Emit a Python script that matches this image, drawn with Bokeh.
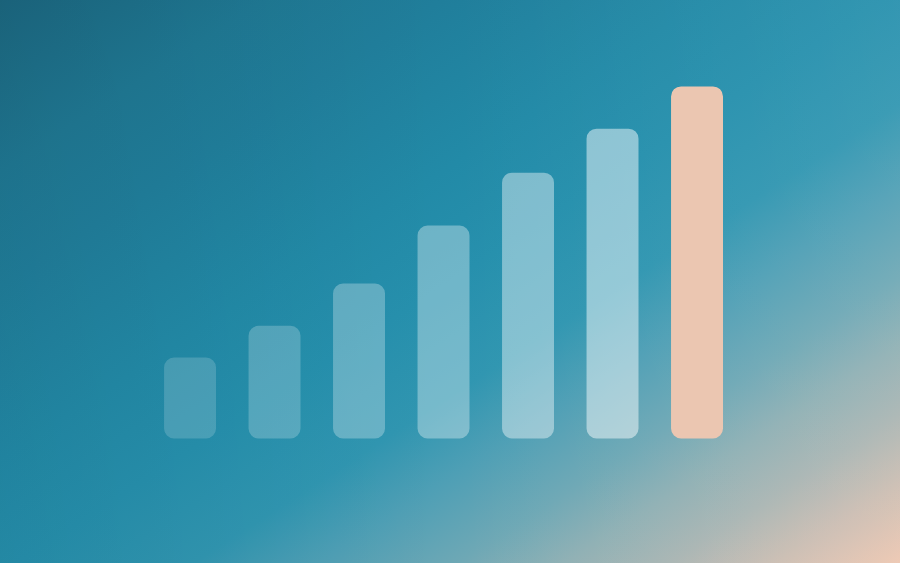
from bokeh.plotting import figure
from bokeh.models import ColumnDataSource, Range1d, GlobalInlineStyleSheet
from bokeh.embed import file_html
from bokeh.resources import INLINE

# Data
steps = [0, 1, 2, 3, 4, 5, 6]
values = [23, 32, 44, 60.5, 75.5, 88, 100]
bar_colors = ["#ffffff"] * 6 + ["#ebc6b1"]
bar_alphas = [0.17, 0.22, 0.28, 0.34, 0.41, 0.48, 1.0]

src = ColumnDataSource(dict(x=steps, top=values, color=bar_colors, alpha=bar_alphas))

W, H = 900, 563
p = figure(width=W, height=H, output_backend="svg", toolbar_location=None,
           x_range=Range1d(-2.243, 8.408), y_range=Range1d(-35.5, 124.4),
           min_border=0, outline_line_color=None)
p.axis.visible = False
p.grid.visible = False
p.background_fill_alpha = 0
p.border_fill_alpha = 0
p.styles = {
    "background": (
        "linear-gradient(90deg, rgba(0,0,0,0.05) 0%, rgba(255,255,255,0) 50%, rgba(255,255,255,0.06) 100%), "
        "linear-gradient(147deg, #1b6780 0%, #1f7893 15%, #207e9b 25%, #228aa7 40%, "
        "#2690ad 50%, #3096b1 60%, #4e9fb5 67%, #6ea8b5 75%, #8fb0b4 81%, "
        "#a9b5b3 87%, #cbbdb2 93%, #edc7b1 100%)"
    )
}
p.stylesheets = [GlobalInlineStyleSheet(css="html,body{margin:0;padding:0;overflow:hidden;background:#1f86a2;}")]

p.vbar(x="x", top="top", bottom=0, width=0.615, source=src,
       fill_color="color", fill_alpha="alpha", line_color=None, border_radius=10)

open("out.html", "w").write(file_html(p, INLINE))
